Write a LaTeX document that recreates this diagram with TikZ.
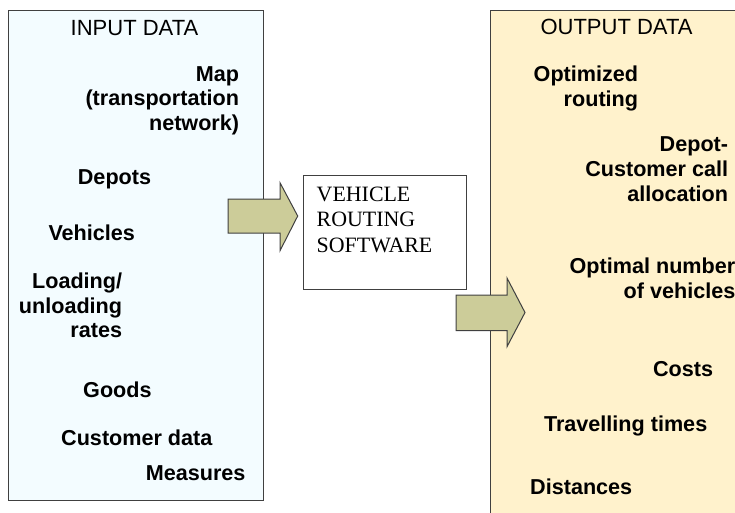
\documentclass[tikz,border=0pt]{standalone}
\usepackage{fontspec}
\setmainfont{Liberation Serif}
\newfontfamily\arialfont{Liberation Sans}
\definecolor{inbg}{RGB}{243,252,255}
\definecolor{outbg}{RGB}{255,242,204}
\definecolor{arrowfill}{RGB}{204,204,153}
\definecolor{edgegray}{RGB}{64,64,64}
\begin{document}
\begin{tikzpicture}[x=1pt,y=-1pt,
  panel/.style={draw=edgegray,line width=1.3pt},
  lbl/.style={font=\arialfont\bfseries\fontsize{21.6}{24.7}\selectfont,inner sep=0pt,text=black},
  ttl/.style={font=\arialfont\fontsize{22}{24.7}\selectfont,inner sep=0pt,text=black},
  blockarrow/.style={draw=edgegray,fill=arrowfill,line width=1pt,line join=miter}]
\useasboundingbox (0,0) rectangle (735,513);
\begin{scope}
\clip (0,0) rectangle (735,513);
% panels
\node[panel,fill=inbg,minimum width=255pt,minimum height=490pt,anchor=north west,inner sep=0pt] (input) at (8,10) {};
\node[panel,fill=outbg,minimum width=260pt,minimum height=520pt,anchor=north west,inner sep=0pt] (output) at (490,10) {};
\node[draw=edgegray,line width=1pt,fill=white,minimum width=163pt,minimum height=114pt,anchor=north west,inner sep=0pt] (vrs) at (303,175) {};
\node[font=\fontsize{21.9}{25.2}\selectfont,align=left,anchor=base west,inner sep=0pt] (vrstext) at (316.5,252) {VEHICLE\\ROUTING\\SOFTWARE};
% block arrows
\coordinate (a1) at (228,199);
\draw[blockarrow] (a1) -- (280,199) -- (280,182.7) -- (297.7,216) -- (280,250.7) -- (280,233) -- (228,233) -- cycle;
\coordinate (a2) at (456,295);
\draw[blockarrow] (a2) -- (507,295) -- (507,278) -- (525,312.5) -- (507,346.7) -- (507,330.7) -- (456,330.7) -- cycle;
% titles
\node[ttl,anchor=base] (intitle) at (134.5,35.7) {INPUT DATA};
\node[ttl,anchor=base] (outtitle) at (616.5,35) {OUTPUT DATA};
% input labels
\node[lbl,anchor=base east,align=right] (map) at (239.3,130.7) {Map\\(transportation\\network)};
\node[lbl,anchor=base west] (depots) at (77.7,184) {Depots};
\node[lbl,anchor=base west] (vehicles) at (48.3,240) {Vehicles};
\node[lbl,anchor=base east,align=right] (loading) at (122.3,337.7) {Loading/\\unloading\\rates};
\node[lbl,anchor=base west] (goods) at (83,397.7) {Goods};
\node[lbl,anchor=base west] (customer) at (61,445.7) {Customer data};
\node[lbl,anchor=base east] (measures) at (245.7,480) {Measures};
% output labels
\node[lbl,anchor=base east,align=right] (optrouting) at (638.3,106.7) {Optimized\\routing};
\node[lbl,anchor=base east,align=right] (depotcust) at (728.3,201) {Depot-\\Customer call\\allocation};
\node[lbl,anchor=base east,align=right] (optnum) at (735.5,298.5) {Optimal number\\of vehicles};
\node[lbl,anchor=base east] (costs) at (713.3,376.7) {Costs};
\node[lbl,anchor=base west] (times) at (543.8,431.7) {Travelling times};
\node[lbl,anchor=base west] (distances) at (530,494) {Distances};
\end{scope}
\end{tikzpicture}
\end{document}
